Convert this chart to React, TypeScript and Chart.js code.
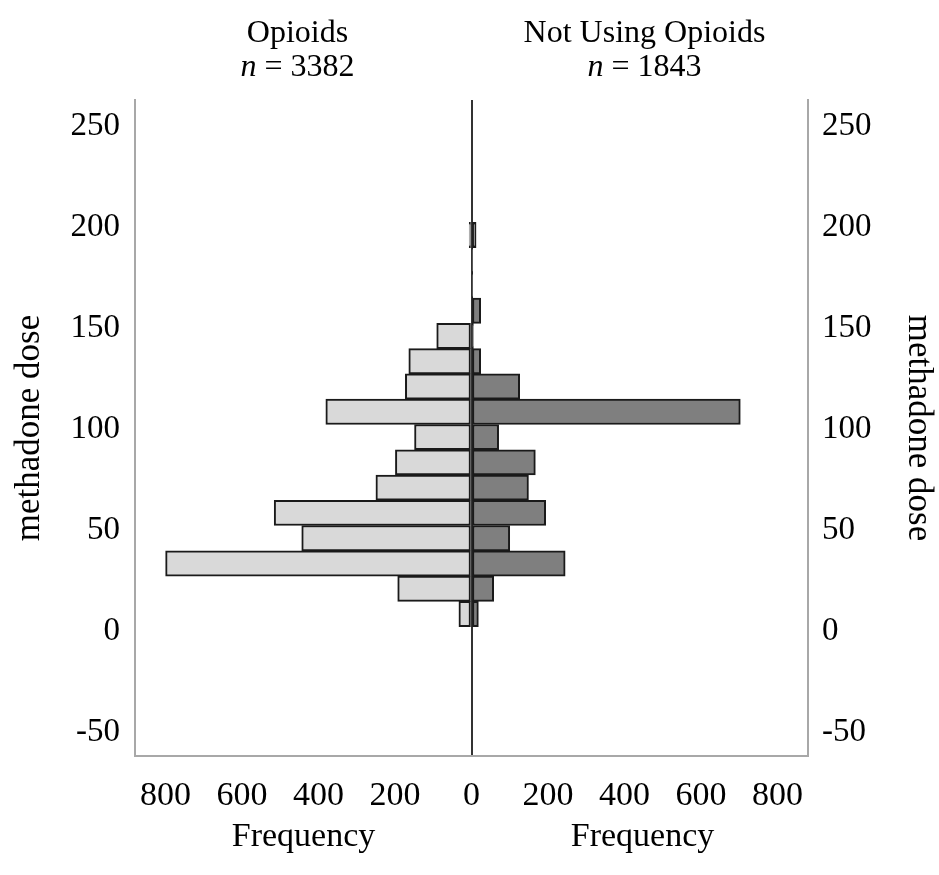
import React, { useEffect, useRef } from "react";
import { Chart, registerables } from "chart.js";

Chart.register(...registerables);

// Histogram bins of methadone dose (lower edge of each bin), width 12.5
const binStart = [0, 12.5, 25, 37.5, 50, 62.5, 75, 87.5, 100, 112.5, 125, 137.5, 150, 162.5, 175, 187.5];
const binWidth = 12.5;

// Frequencies per bin
const opioids = [33, 193, 800, 444, 516, 250, 199, 149, 381, 173, 164, 91, 0, 0, 0, 6];
const notUsingOpioids = [18, 58, 245, 100, 194, 149, 167, 71, 703, 126, 24, 5, 24, 3, 3, 12];

// Axis ticks
const doseTicks = [-50, 0, 50, 100, 150, 200, 250];
const freqTicks = [-800, -600, -400, -200, 0, 200, 400, 600, 800];

const groupTitles = ["Opioids", "Not Using Opioids"];
const groupN = ["3382", "1843"];
const yTitle = "methadone dose";
const xTitle = "Frequency";

const FONT = '"Liberation Serif", "Times New Roman", serif';

export default function App() {
  const ref = useRef<HTMLCanvasElement | null>(null);

  useEffect(() => {
    const canvas = ref.current;
    if (!canvas) return;

    const overlay = {
      id: "overlay",
      afterDraw(chart: any) {
        const { ctx, scales } = chart;
        const zero = scales.x.getPixelForValue(0);
        const titleCenters = [zero - 174, zero + 173];
        const freqCenters = [zero - 168, zero + 171];
        ctx.save();
        ctx.fillStyle = "#000";
        ctx.textBaseline = "alphabetic";
        titleCenters.forEach((cx: number, i: number) => {
          ctx.font = `32px ${FONT}`;
          ctx.textAlign = "center";
          ctx.fillText(groupTitles[i], cx, 42);
          ctx.font = `italic 32px ${FONT}`;
          const nW = ctx.measureText("n").width;
          ctx.font = `32px ${FONT}`;
          const rest = " = " + groupN[i];
          const rW = ctx.measureText(rest).width;
          const start = cx - (nW + rW) / 2;
          ctx.textAlign = "left";
          ctx.font = `italic 32px ${FONT}`;
          ctx.fillText("n", start, 76);
          ctx.font = `32px ${FONT}`;
          ctx.fillText(rest, start + nW, 76);
        });
        freqCenters.forEach((cx: number) => {
          ctx.font = `34px ${FONT}`;
          ctx.textAlign = "center";
          ctx.fillText(xTitle, cx, 846);
        });
        ctx.restore();
      },
    };

    const setDoseTicks = (scale: any) => {
      scale.ticks = doseTicks.map((v) => ({ value: v }));
    };

    const chart = new Chart(canvas, {
      type: "bar",
      data: {
        datasets: [
          {
            label: groupTitles[0],
            data: binStart.map((b, i) => ({ y: b + binWidth / 2, x: -opioids[i] })),
            backgroundColor: "#d9d9d9",
            borderColor: "#1a1a1a",
            borderWidth: 2,
            borderSkipped: false,
            yAxisID: "y",
          },
          {
            label: groupTitles[1],
            data: binStart.map((b, i) => ({ y: b + binWidth / 2, x: notUsingOpioids[i] })),
            backgroundColor: "#7f7f7f",
            borderColor: "#1a1a1a",
            borderWidth: 2,
            borderSkipped: false,
            yAxisID: "y",
          },
        ],
      },
      options: {
        indexAxis: "y",
        responsive: false,
        animation: false,
        grouped: false,
        barPercentage: 1,
        categoryPercentage: 1,
        layout: { padding: { top: 100, left: 0, right: 0, bottom: 0 } },
        plugins: {
          legend: { display: false },
          tooltip: { enabled: false },
        },
        scales: {
          x: {
            type: "linear",
            position: "bottom",
            min: -880,
            max: 880,
            afterBuildTicks: (scale: any) => {
              scale.ticks = freqTicks.map((v) => ({ value: v }));
            },
            afterFit: (scale: any) => {
              scale.height = 119;
            },
            ticks: {
              padding: 20,
              color: "#000",
              font: { family: FONT, size: 34 },
              callback: (v: any) => String(Math.abs(Number(v))),
            },
            grid: {
              drawTicks: false,
              color: (c: any) => (c.tick && c.tick.value === 0 ? "#333333" : "rgba(0,0,0,0)"),
              lineWidth: 2,
            },
            border: { display: true, color: "#a8a8a8", width: 2 },
          },
          y: {
            type: "linear",
            position: "left",
            offset: false,
            min: -64,
            max: 260.5,
            afterBuildTicks: setDoseTicks,
            afterFit: (scale: any) => {
              scale.width = 135;
            },
            ticks: {
              padding: 15,
              labelOffset: 5,
              color: "#000",
              font: { family: FONT, size: 33 },
            },
            grid: { offset: false, drawTicks: false, color: "rgba(0,0,0,0)" },
            border: { display: true, color: "#a8a8a8", width: 2 },
            title: {
              display: true,
              text: yTitle,
              color: "#000",
              font: { family: FONT, size: 35 },
              padding: { top: 9, bottom: 0 },
            },
          },
          y2: {
            type: "linear",
            position: "right",
            offset: false,
            min: -64,
            max: 260.5,
            afterBuildTicks: setDoseTicks,
            afterFit: (scale: any) => {
              scale.width = 131;
            },
            ticks: {
              padding: 14,
              labelOffset: 5,
              color: "#000",
              font: { family: FONT, size: 33 },
            },
            grid: { offset: false, drawTicks: false, color: "rgba(0,0,0,0)" },
            border: { display: true, color: "#a8a8a8", width: 2 },
            title: {
              display: true,
              text: yTitle,
              color: "#000",
              font: { family: FONT, size: 35 },
              padding: { top: 0, bottom: 0 },
            },
          },
        },
      } as any,
      plugins: [overlay],
    });

    return () => chart.destroy();
  }, []);

  return (
    <div style={{ position: "absolute", left: 0, top: 0, width: 939, height: 875, background: "#fff" }}>
      <canvas ref={ref} width={939} height={875} />
    </div>
  );
}
